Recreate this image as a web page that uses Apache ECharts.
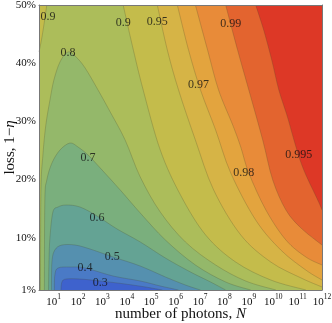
<!DOCTYPE html>
<html>
<head>
<meta charset="utf-8">
<script src="https://cdn.jsdelivr.net/npm/echarts@6/dist/echarts.min.js"></script>
<style>
html, body { margin: 0; padding: 0; background: #fff; }
#chart1 { width: 332px; height: 323px; }
</style>
</head>
<body>
<div id="chart1"></div>
<script>
// x = log10(number of photons), y = loss in %
var xTicks = [1, 2, 3, 4, 5, 6, 7, 8, 9, 10, 11, 12];
var yTicks = [1, 10, 20, 30, 40, 50];

// contour lines, [log10 N, loss %]
// low levels: closed humps, both ends on the bottom edge
var c30 = [[1.30,1],[1.34,2.38],[1.51,2.89],[2.08,2.89],[2.91,2.55],[3.93,2.03],[4.76,1.52],[5.46,1]];
var c40 = [[1.03,1],[1.05,3.58],[1.18,4.78],[1.67,4.95],[2.29,4.78],[3.44,3.4],[4.55,2.55],[5.37,1.69],[6.12,1]];
var c50 = [[0.91,1],[0.93,5.81],[1.05,7.88],[1.34,8.73],[1.88,8.73],[2.49,8.05],[3.44,6.67],[4.55,5.12],[5.58,3.24],[6.40,1.86],[7.02,1]];
var c60 = [[0.79,1],[0.81,6.16],[0.85,10.11],[0.97,14.41],[1.18,15.27],[1.51,15.61],[2.08,15.27],[2.78,13.72],[3.60,11.49],[4.55,9.26],[5.58,6.5],[6.61,4.09],[7.43,2.38],[8.05,1]];
var c70 = [[0.62,1],[0.64,16.47],[0.72,19.91],[0.93,22.83],[1.26,25.07],[1.67,26.27],[2.0,25.58],[2.41,24.21],[2.91,21.97],[3.73,18.19],[4.55,14.24],[5.58,9.6],[6.81,5.3],[8.05,2.38],[9.08,1]];
var c80 = [[0.46,1],[0.48,18.19],[0.56,24.21],[0.68,29.37],[0.85,33.67],[1.01,37.1],[1.26,40.2],[1.59,41.92],[1.92,41.06],[2.29,39.17],[2.82,35.39],[3.32,31.6],[3.93,26.79],[4.55,20.43],[5.37,14.41],[6.40,9.26],[7.64,5.3],[8.87,2.55],[10.11,1]];
// high levels: from the top edge down to the right or bottom edge
var c90top = [[0.72,50],[0.60,46.56],[0.50,43.98],[0.40,41.92]];
var c90 = [[3.85,50],[4.22,43.12],[4.67,35.39],[5.37,25.07],[6.20,17.33],[7.23,10.46],[8.46,5.81],[9.90,2.72],[11.34,1]];
var c95 = [[5.25,50],[5.66,42.26],[6.12,35.39],[6.81,26.79],[7.56,18.19],[8.67,10.46],[9.90,5.81],[11.14,3.07],[12,1.52]];
var c97 = [[6.07,50],[6.53,42.26],[7.02,35.39],[7.64,28.51],[8.26,21.11],[9.28,13.04],[10.31,7.88],[11.34,4.42],[12,2.72]];
var c98 = [[6.81,50],[7.31,42.26],[7.76,35.39],[8.34,29.37],[8.67,25.58],[9.0,21.11],[9.70,14.76],[10.52,9.6],[11.34,6.67],[12,5.3]];
var c99 = [[8.05,50],[8.54,42.26],[9.0,35.39],[9.57,26.79],[9.98,19.91],[10.52,14.76],[11.14,11.65],[12,8.73]];
var c995 = [[9.28,50],[9.61,45.7],[9.94,40.54],[10.23,35.39],[10.56,31.09],[10.85,26.79],[11.10,23.35],[11.34,20.77],[11.63,18.19],[11.88,15.96],[12,14.76]];

// contour labels [log10 N, loss %, text]
var contourLabels = [
  [0.77, 47.94, '0.9'], [1.59, 41.75, '0.8'], [3.85, 46.9, '0.9'], [5.25, 47.08, '0.95'],
  [8.26, 46.73, '0.99'], [6.94, 36.24, '0.97'], [11.05, 24.21, '0.995'], [8.79, 21.11, '0.98'],
  [2.41, 23.69, '0.7'], [2.78, 13.38, '0.6'], [3.40, 6.67, '0.5'], [2.29, 4.78, '0.4'], [2.91, 2.2, '0.3']
];

var xMin = 0.4, xMax = 12, yMin = 1, yMax = 50;
var font = 'Liberation Serif';
var lineColor = 'rgba(70,70,40,0.3)';

// smooth curve through the contour points (drawing only, no extra data)
function curvePath(px) {
  var d = 'M' + px[0][0] + ' ' + px[0][1];
  for (var i = 0; i < px.length - 1; i++) {
    var p0 = px[i - 1] || px[i], p1 = px[i], p2 = px[i + 1], p3 = px[i + 2] || px[i + 1];
    d += ' C' + (p1[0] + (p2[0] - p0[0]) / 6) + ' ' + (p1[1] + (p2[1] - p0[1]) / 6) +
         ' ' + (p2[0] - (p3[0] - p1[0]) / 6) + ' ' + (p2[1] - (p3[1] - p1[1]) / 6) +
         ' ' + p2[0] + ' ' + p2[1];
  }
  return d;
}

function area(curve, corners, color) {
  return {
    type: 'custom', silent: true, data: [[xMin, yMin]],
    renderItem: function (params, api) {
      var d = curvePath(curve.map(function (p) { return api.coord(p); }));
      corners.forEach(function (p) { var c = api.coord(p); d += ' L' + c[0] + ' ' + c[1]; });
      return { type: 'path', shape: { pathData: d + ' Z' }, style: { fill: color } };
    }
  };
}

function contourLine(curve) {
  return {
    type: 'custom', silent: true, z: 3, data: [[xMin, yMin]],
    renderItem: function (params, api) {
      var d = curvePath(curve.map(function (p) { return api.coord(p); }));
      return { type: 'path', shape: { pathData: d },
        style: { fill: null, stroke: lineColor, lineWidth: 0.8 } };
    }
  };
}

function rightCorners(curve) {
  return curve[curve.length - 1][1] <= yMin ? [[xMax, yMin], [xMax, yMax]] : [[xMax, yMax]];
}

var series = [
  area([[xMin, yMin], [xMax, yMin]], [[xMax, yMax], [xMin, yMax]], '#acbd5a'),
  area(c90, rightCorners(c90), '#c4bc4b'),
  area(c90top, [[xMin, yMax]], '#c4bc4b'),
  area(c95, rightCorners(c95), '#d6b446'),
  area(c97, rightCorners(c97), '#e3a43e'),
  area(c98, rightCorners(c98), '#e88b39'),
  area(c99, rightCorners(c99), '#e3642f'),
  area(c995, rightCorners(c995), '#dd3826'),
  area(c80, [], '#94b86a'),
  area(c70, [], '#7aaf7d'),
  area(c60, [], '#64a394'),
  area(c50, [], '#5590af'),
  area(c40, [], '#4a7ac6'),
  area(c30, [], '#3e62cd')
];
[c30, c40, c50, c60, c70, c80, c90top, c90, c95, c97, c98, c99, c995].forEach(function (c) {
  series.push(contourLine(c));
});
series.push({
  type: 'scatter', data: contourLabels, symbolSize: 1, silent: true, z: 4,
  itemStyle: { color: 'rgba(0,0,0,0)' },
  label: {
    show: true, position: 'inside', color: '#111',
    fontFamily: font, fontSize: 12,
    formatter: function (p) { return p.value[2]; }
  }
});

var myChart = echarts.init(document.getElementById('chart1'));
var option = {
  animation: false,
  grid: { left: 39, right: 10, top: 5, bottom: 33, containLabel: false, outerBoundsMode: 'none' },
  xAxis: [{
    type: 'value', min: xMin, max: xMax, z: 10,
    name: 'number of photons, {i|N}', nameLocation: 'middle', nameGap: 17, nameMoveOverlap: false,
    nameTextStyle: { fontFamily: font, fontSize: 15, color: '#111',
      rich: { i: { fontFamily: font, fontSize: 15, fontStyle: 'italic', color: '#111' } } },
    axisLine: { show: true, lineStyle: { color: '#777', width: 1 } },
    axisTick: { show: false },
    splitLine: { show: false },
    axisLabel: {
      customValues: xTicks, margin: 3, color: '#111', fontFamily: font, fontSize: 11,
      formatter: function (v) { return '{b|10}{s|' + v + '}'; },
      rich: {
        b: { fontFamily: font, fontSize: 11, color: '#111', lineHeight: 15, verticalAlign: 'bottom' },
        s: { fontFamily: font, fontSize: 7.5, color: '#111', verticalAlign: 'top', lineHeight: 9 }
      }
    }
  }, {
    type: 'value', min: xMin, max: xMax, position: 'top', z: 10,
    axisLine: { show: true, lineStyle: { color: '#777', width: 1 } },
    axisTick: { show: false }, axisLabel: { show: false }, splitLine: { show: false }
  }],
  yAxis: [{
    type: 'value', min: yMin, max: yMax, z: 10,
    name: 'loss, 1\u2212{i|\u03b7}', nameLocation: 'middle', nameGap: 21, nameRotate: 90, nameMoveOverlap: false,
    nameTextStyle: { fontFamily: font, fontSize: 15, color: '#111',
      rich: { i: { fontFamily: font, fontSize: 15, fontStyle: 'italic', color: '#111' } } },
    axisLine: { show: true, lineStyle: { color: '#777', width: 1 } },
    axisTick: { show: false },
    splitLine: { show: false },
    axisLabel: {
      customValues: yTicks, margin: 3, color: '#111', fontFamily: font, fontSize: 11,
      formatter: function (v) { return v + '%'; }
    }
  }, {
    type: 'value', min: yMin, max: yMax, position: 'right', z: 10,
    axisLine: { show: true, lineStyle: { color: '#777', width: 1 } },
    axisTick: { show: false }, axisLabel: { show: false }, splitLine: { show: false }
  }],
  series: series
};
myChart.setOption(option);
</script>
</body>
</html>
